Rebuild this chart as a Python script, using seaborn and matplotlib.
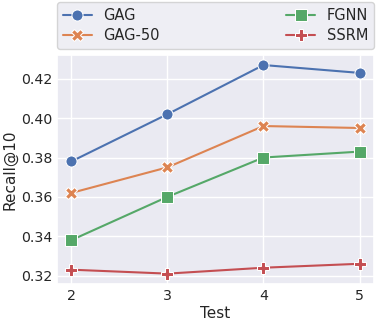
import pandas as pd
import matplotlib
matplotlib.use("Agg")
import matplotlib.pyplot as plt
import seaborn as sns

tests = [2, 3, 4, 5]
gag = [0.378, 0.402, 0.427, 0.423]
gag_50 = [0.362, 0.375, 0.396, 0.395]
fgnn = [0.338, 0.360, 0.380, 0.383]
ssrm = [0.323, 0.321, 0.324, 0.326]

models = ["GAG", "GAG-50", "FGNN", "SSRM"]
series = [gag, gag_50, fgnn, ssrm]

rows = []
for name, vals in zip(models, series):
    for t, v in zip(tests, vals):
        rows.append({"Test": t, "Recall@10": v, "Model": name})
df = pd.DataFrame(rows)

sns.set_theme(style="darkgrid", palette="deep")

fig, ax = plt.subplots(figsize=(3.82, 3.25), dpi=100)
sns.lineplot(data=df, x="Test", y="Recall@10", hue="Model", style="Model",
             markers=["o", "X", "s", "P"], dashes=False, markersize=8, ax=ax)

ax.set_xticks(tests)
ax.set_yticks([0.32, 0.34, 0.36, 0.38, 0.40, 0.42])
ax.tick_params(labelsize=10.2, length=0, pad=3.5)
ax.set_xlabel("Test", fontsize=11, labelpad=2)
ax.set_ylabel("Recall@10", fontsize=11, labelpad=2)

handles, labels = ax.get_legend_handles_labels()
ax.legend(handles, labels, loc="lower left", bbox_to_anchor=(0, 1.024, 1, 0.2),
          mode="expand", ncol=2, fontsize=10.5, borderaxespad=0,
          labelspacing=0.35, borderpad=0.4)

fig.subplots_adjust(left=0.149, right=0.979, top=0.832, bottom=0.126)
fig.savefig("out.png", dpi=100)
